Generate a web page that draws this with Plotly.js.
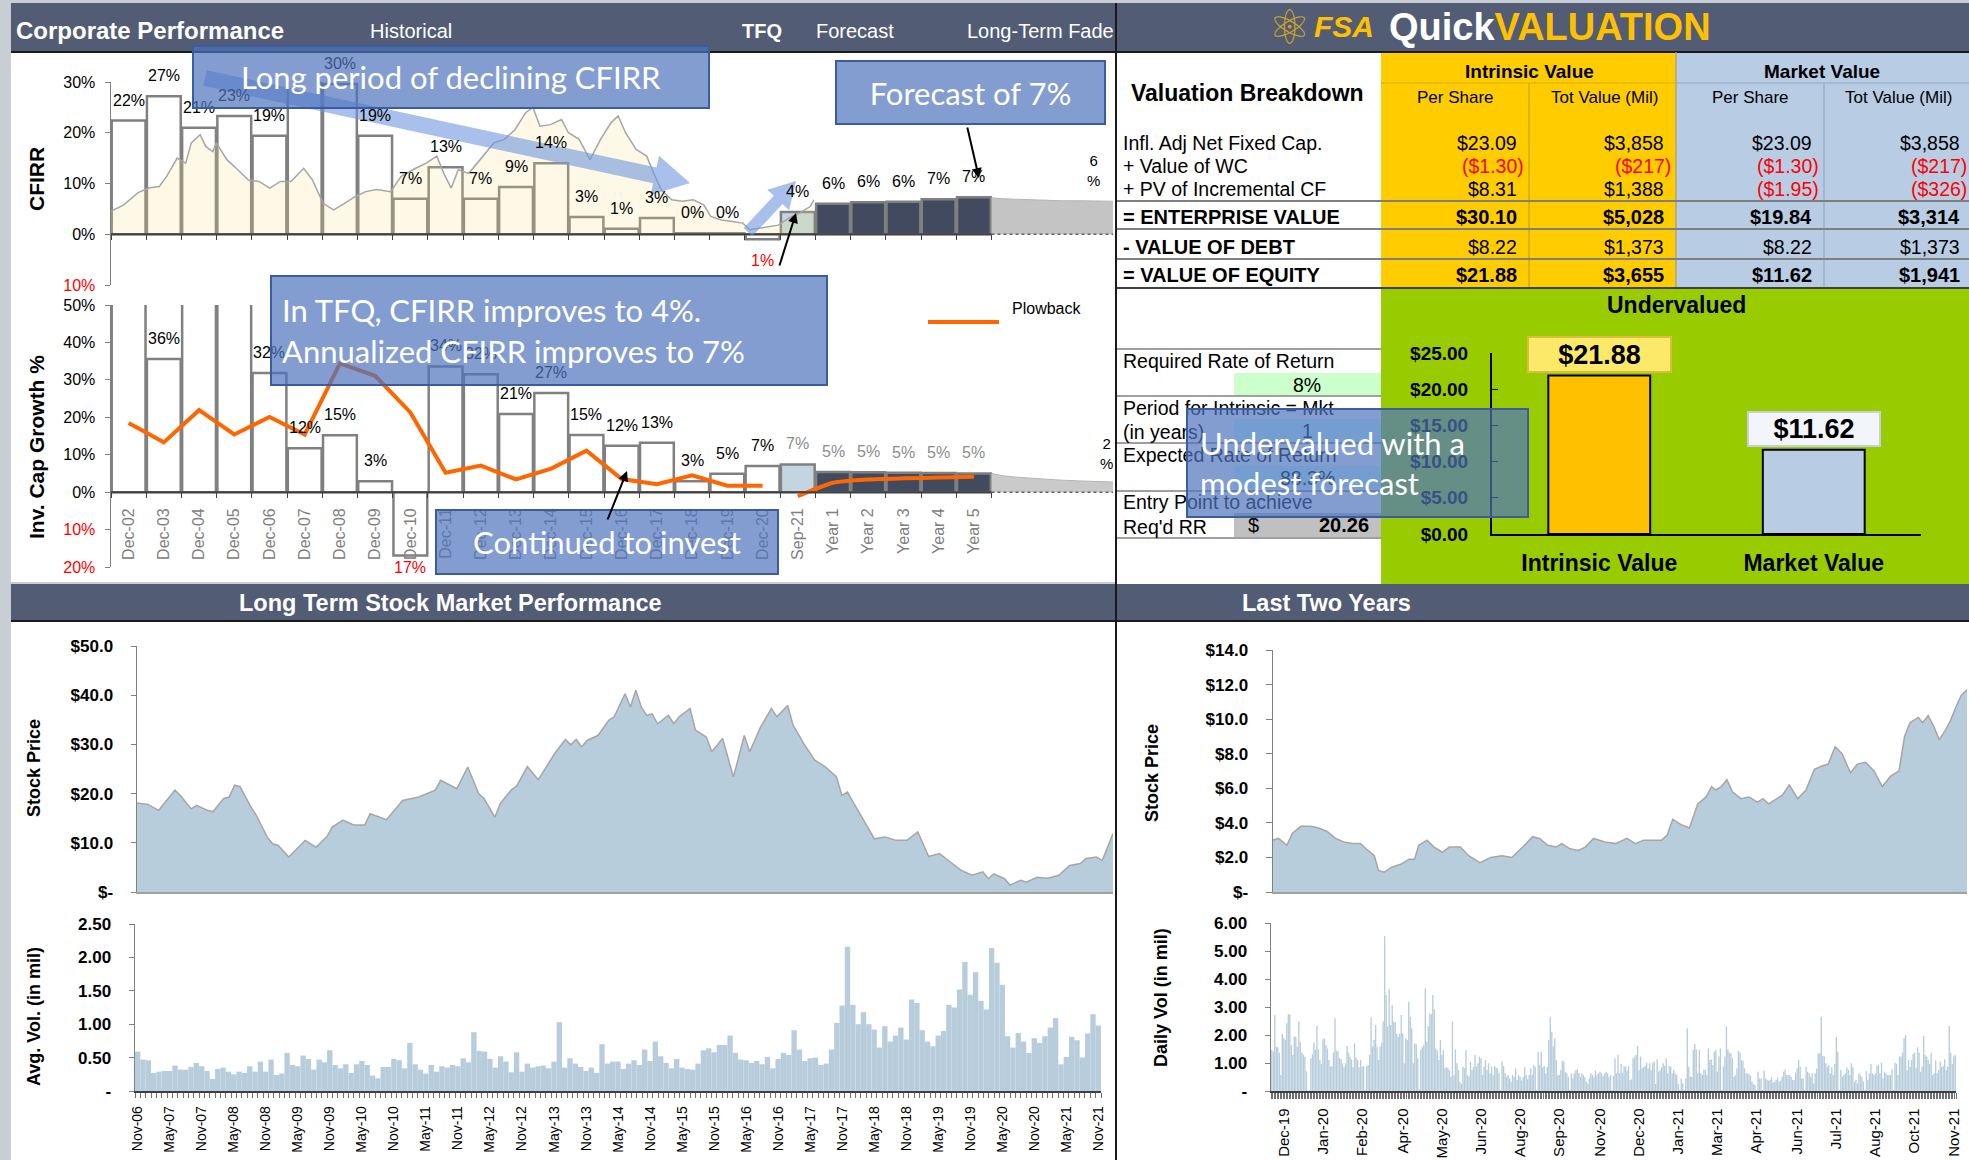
<!DOCTYPE html>
<html><head><meta charset="utf-8">
<script src="https://cdn.plot.ly/plotly-3.0.1.min.js"></script>
<style>html,body{margin:0;padding:0;background:#c9ced4;overflow:hidden}#chart{width:1969px;height:1160px}</style>
</head><body><div id="chart"></div>
<script>
// ---------------- DATA ----------------
const categories = ['Dec-02','Dec-03','Dec-04','Dec-05','Dec-06','Dec-07','Dec-08','Dec-09','Dec-10','Dec-11','Dec-12','Dec-13','Dec-14','Dec-15','Dec-16','Dec-17','Dec-18','Dec-19','Dec-20','Sep-21','Year 1','Year 2','Year 3','Year 4','Year 5'];
const cfirr = [22.4,27.2,21.0,23.3,19.4,31.0,29.6,19.4,7.0,13.2,7.0,9.3,14.0,3.4,1.1,3.2,0.2,0.2,-1.0,4.4,6.0,6.3,6.4,6.9,7.3];
const invCapGrowth = [56,35.6,58,60,31.8,11.7,15.2,2.9,-16.9,33.6,31.5,20.9,26.5,15.3,12.4,13.2,2.9,4.9,7.0,7.4,5.4,5.3,5.2,5.1,5.0];
const plowback = [18.5,13.3,21.9,15.4,20.1,15.4,34.4,31.1,21.3,5.2,7.1,3.4,6.3,11.1,3.5,2.1,4.5,1.7,1.7];
const plowbackForecastPos = [19,20,21,22,23,24];
const plowbackForecast = [-1.1,2.5,3.4,3.7,3.9,4.1];
const fadePos = [24.5,24.8,25.2,25.6,26.0,26.5,27.0,27.5,27.95];
const cfirrFade = [7.2,7.0,6.9,6.8,6.7,6.6,6.6,6.5,6.5];
const invFade = [5.0,4.4,4.0,3.7,3.5,3.2,3.0,2.8,2.7];
const cfirrFadeLabel = '6%';
const invFadeLabel = '2%';
const cfirrTrendPos = [-0.5,-0.14,0.27,0.57,0.87,1.08,1.38,1.62,1.78,2.03,2.19,2.39,2.49,2.79,3.10,3.40,3.70,4.01,4.31,4.61,4.97,5.22,5.52,5.82,6.13,6.43,6.73,7.04,7.44,7.74,8.15,8.45,8.75,8.95,9.16,9.36,9.66,10.07,10.37,10.67,10.97,11.28,11.48,11.68,11.98,12.29,12.49,12.79,13.10,13.40,13.70,13.90,14.11,14.41,14.71,14.91,15.12,15.42,15.72,16.03,16.33,16.53,16.83,17.14,17.44,17.64,17.94,18.25,18.45,18.75,19.06,19.36,19.46];
const cfirrTrend = [4.5,5.8,8.2,9.1,9.4,11.4,15.0,14.0,18.0,19.6,17.3,16.3,18.0,14.7,12.7,10.7,10.4,9.1,10.4,10.4,13.0,10.7,6.1,4.8,6.1,7.4,8.4,8.8,8.4,11.4,13.0,14.0,15.4,12.0,9.1,12.7,12.0,15.4,18.0,18.7,20.6,24.0,25.0,21.3,21.6,22.6,20.0,18.7,14.7,18.7,22.0,23.3,20.0,16.7,15.4,12.0,8.8,6.8,6.5,6.8,5.8,3.5,2.8,2.5,2.2,0.9,1.2,1.5,1.8,3.2,4.2,5.5,6.8];

const breakdownLabels = ['Infl. Adj Net Fixed Cap.','+ Value of WC','+ PV of Incremental CF','= ENTERPRISE VALUE','- VALUE OF DEBT','= VALUE OF EQUITY'];
const intrinsicPerShare = [23.09,-1.30,8.31,30.10,8.22,21.88];
const intrinsicTotal = [3858,-217,1388,5028,1373,3655];
const marketPerShare = [23.09,-1.30,-1.95,19.84,8.22,11.62];
const marketTotal = [3858,-217,-326,3314,1373,1941];
const requiredReturnPct = 8;
const yearsToConverge = 1;
const expectedReturnPct = 88.3;
const entryPoint = 20.26;
const valueCats = ['Intrinsic Value','Market Value'];
const valuePerShare = [21.88,11.62];
const valuationVerdict = 'Undervalued';

const ltPriceMonth = [0,2,4,7,8,10,11,13,14,16,17,18,19,21,22,24,25,26,28,31,33,35,36,38,40,42,43,46,49,52,55,56,59,61,63,64,66,67,69,70,72,74,77,79,80,81,82,83,85,87,88,90,91,92,93,94,95,96,98,99,100,102,103,105,106,108,110,112,113,115,117,118,120,121,123,125,127,129,130,131,134,136,138,140,142,144,146,148,150,152,154,156,157,158,160,161,163,164,166,168,170,172,174,175,177,178,179,180];
const ltPrice = [18.1,17.8,16.6,20.7,19.6,16.9,17.6,16.6,16.3,19.0,19.3,21.7,21.4,17.3,15.6,11.2,9.8,9.5,7.1,10.5,9.1,11.2,13.2,14.6,13.6,13.6,15.9,14.7,18.6,19.3,20.7,22.7,21.0,25.4,20.0,19.0,15.2,18.0,20.7,21.5,25.5,22.8,28.1,31.0,29.9,31.0,29.5,30.8,31.8,34.9,35.6,40.3,37.6,41.0,37.6,35.9,36.2,34.2,35.9,34.2,35.6,37.3,32.9,31.5,28.5,31.2,23.4,31.8,28.5,33.5,37.3,35.6,37.9,33.9,30.1,26.8,25.4,23.4,19.6,20.3,14.6,10.8,11.2,10.5,10.5,12.2,7.2,7.8,6.1,4.4,3.4,4.1,2.7,3.7,2.7,1.4,2.4,2.0,3.0,2.8,3.4,5.4,5.8,6.8,7.1,6.4,9.1,11.9];
const ltPriceTicks = ['$-','$10.0','$20.0','$30.0','$40.0','$50.0'];
const ltVol = [0.59,0.47,0.46,0.27,0.29,0.30,0.30,0.38,0.32,0.32,
0.36,0.42,0.37,0.30,0.18,0.33,0.35,0.29,0.25,0.29,
0.27,0.37,0.29,0.44,0.29,0.47,0.24,0.26,0.57,0.39,
0.37,0.53,0.48,0.32,0.47,0.43,0.61,0.39,0.34,0.40,
0.27,0.40,0.45,0.39,0.23,0.19,0.36,0.36,0.48,0.46,
0.34,0.72,0.40,0.32,0.26,0.39,0.29,0.37,0.35,0.39,
0.37,0.49,0.43,0.88,0.60,0.59,0.48,0.35,0.52,0.44,
0.28,0.58,0.29,0.41,0.35,0.37,0.38,0.34,0.44,1.03,
0.35,0.49,0.41,0.36,0.30,0.35,0.27,0.70,0.41,0.44,
0.44,0.33,0.41,0.46,0.39,0.62,0.45,0.74,0.52,0.42,
0.34,0.48,0.35,0.33,0.32,0.41,0.61,0.64,0.58,0.69,
0.69,0.83,0.57,0.47,0.46,0.42,0.45,0.40,0.51,0.34,
0.48,0.57,0.54,0.91,0.62,0.45,0.49,0.50,0.39,0.41,
0.62,1.02,1.28,2.16,1.29,1.00,1.18,1.00,0.92,0.65,
0.97,0.74,0.83,0.95,0.77,1.37,1.32,0.91,0.74,0.67,
0.83,0.90,1.29,1.25,1.52,1.93,1.44,1.78,1.35,1.22,
2.14,1.92,1.59,0.82,0.65,0.87,0.74,0.57,0.79,0.72,
0.82,0.95,1.09,0.40,0.51,0.81,0.76,0.50,0.86,1.15,
0.98];
const ltVolTicks = ['Nov-06','May-07','Nov-07','May-08','Nov-08','May-09','Nov-09','May-10','Nov-10','May-11','Nov-11','May-12','Nov-12','May-13','Nov-13','May-14','Nov-14','May-15','Nov-15','May-16','Nov-16','May-17','Nov-17','May-18','Nov-18','May-19','Nov-19','May-20','Nov-20','May-21','Nov-21'];
const ltVolTickText = ['-','0.50','1.00','1.50','2.00','2.50'];

const twoYrDay = [0,4,10,14,20,27,33,39,45,51,57,63,67,73,76,80,86,92,98,102,105,111,116,122,127,135,141,149,157,165,172,180,187,192,198,204,208,214,220,225,231,239,247,255,261,267,274,280,284,288,294,300,306,312,316,319,323,327,331,337,343,349,353,357,361,367,372,378,384,390,396,400,405,410,416,421,427,433,439,445,451,455,459,465,468,472,476,480,484,488,492,496,500];
const twoYrPrice = [3.0,3.1,2.7,3.4,3.8,3.8,3.7,3.5,3.1,2.9,2.8,2.8,2.5,2.1,1.25,1.15,1.45,1.6,1.9,1.9,2.7,3.0,2.6,2.3,2.6,2.6,2.1,1.7,2.0,2.1,2.0,2.6,3.2,3.1,2.7,2.6,2.8,2.5,2.4,2.6,3.1,2.9,2.8,3.1,2.8,3.0,3.0,3.0,3.3,4.2,3.9,3.7,5.1,5.5,6.1,5.9,6.1,6.5,5.8,5.4,5.5,5.2,5.4,5.1,5.3,5.6,6.2,5.4,5.9,7.1,7.3,7.4,8.4,8.0,6.9,7.4,7.5,7.0,6.1,6.7,7.0,9.0,9.8,10.1,9.8,10.2,9.6,8.8,9.3,9.9,10.7,11.4,11.7];
const twoYrPriceTicks = ['$-','$2.0','$4.0','$6.0','$8.0','$10.0','$12.0','$14.0'];
const dailyVol = [1.46,1.40,2.71,1.58,1.55,1.37,0.57,2.04,1.88,1.83,
2.42,2.74,2.74,1.64,1.29,1.94,1.94,1.58,2.48,1.76,
1.37,1.29,1.22,0.70,0.03,0.02,1.17,1.31,1.73,1.49,
2.32,1.49,1.11,0.96,1.85,1.88,1.64,1.52,1.11,0.87,
0.89,1.37,2.60,1.44,1.42,1.18,1.14,0.99,0.85,0.99,
1.61,1.37,1.23,1.13,0.85,1.70,1.20,1.11,0.85,1.11,
0.87,0.89,0.04,0.89,0.93,1.29,2.63,1.58,1.82,2.36,
1.58,1.11,1.58,1.73,2.48,5.53,3.43,2.30,3.63,2.36,
3.07,2.48,2.45,2.04,1.94,2.04,2.71,2.06,0.99,1.88,
1.82,3.19,2.65,2.24,0.99,1.70,1.67,1.17,0.05,1.46,
1.56,1.64,3.67,1.76,2.32,2.77,2.74,3.43,2.92,1.52,
1.44,1.11,1.82,1.29,1.46,0.81,0.85,0.81,0.75,0.51,
2.48,0.57,1.49,0.99,0.75,0.33,0.25,0.87,0.81,1.46,
0.57,0.51,1.05,0.75,0.85,1.29,0.87,0.99,1.23,1.17,
0.57,0.87,1.11,0.75,0.99,0.63,0.87,0.57,0.89,0.85,
0.81,0.63,0.04,1.05,0.89,0.63,0.51,0.57,0.45,0.33,
0.57,0.51,0.81,0.39,0.57,0.51,0.37,0.51,0.85,0.57,
0.42,0.57,0.81,0.57,0.93,0.87,0.04,1.40,0.93,1.40,
0.85,0.89,0.63,0.87,1.82,2.65,2.12,1.60,1.88,1.11,
0.57,0.57,0.75,1.08,1.05,0.69,0.63,0.51,0.04,0.63,
0.45,0.63,0.75,0.77,0.63,0.51,0.63,0.57,0.49,0.33,
0.27,0.45,0.63,0.57,0.49,0.73,0.57,0.63,0.69,0.63,
0.54,0.63,0.69,0.63,0.51,0.57,0.04,0.54,1.17,0.63,
1.29,0.63,0.96,0.65,0.89,0.87,0.73,0.89,0.39,0.42,
1.17,1.23,1.29,1.61,0.75,1.23,0.81,0.85,0.89,1.01,
0.81,0.99,
0.75,1.01,1.05,0.25,1.13,0.69,
0.75,0.85,0.99,0.89,1.17,0.63,0.89,0.87,0.63,0.75,
0.63,0.57,0.25,0.04,0.45,0.27,0.04,0.45,2.24,0.87,
0.51,0.51,1.46,1.68,1.49,0.63,1.46,0.63,0.57,0.77,
0.75,0.57,1.52,1.11,1.13,0.93,1.40,1.46,0.69,1.23,
1.52,0.04,0.87,1.23,2.30,1.49,1.37,1.35,1.17,0.51,
0.57,0.81,1.44,1.37,1.11,1.08,0.81,0.63,0.63,0.61,
0.54,0.33,0.25,0.21,0.04,0.69,0.45,0.45,0.04,0.73,
0.45,0.39,0.37,0.39,0.49,0.30,0.33,0.39,0.49,0.33,
0.37,0.51,0.69,0.77,0.57,0.57,0.57,0.51,0.39,0.39,
0.65,0.81,1.11,0.87,0.45,0.45,0.04,0.87,0.69,0.63,
0.51,0.63,0.27,0.63,0.80,1.35,1.35,2.65,1.25,1.23,
0.99,0.87,0.93,0.63,0.85,0.57,0.96,1.94,1.40,0.04,
0.75,0.51,0.57,0.63,0.85,0.75,0.57,0.99,0.85,0.33,
0.39,0.27,0.63,0.57,0.49,0.33,0.04,0.71,0.39,0.63,
0.96,0.63,0.57,0.63,0.89,0.93,0.63,1.01,0.45,0.69,
0.63,0.57,0.57,0.57,0.77,0.04,1.01,0.96,0.57,1.23,
1.23,1.37,1.88,2.00,0.75,1.11,0.87,1.11,1.32,1.37,
0.81,1.56,1.37,0.69,0.87,1.96,1.29,1.23,1.11,0.96,
1.37,0.57,0.63,1.08,0.63,0.75,1.05,0.85,0.89,1.13,
0.75,0.87,2.32,1.37,0.96,1.23,1.29];
const dailyTickText = ['Dec-19','Jan-20','Feb-20','Apr-20','May-20','Jun-20','Aug-20','Sep-20','Nov-20','Dec-20','Jan-21','Mar-21','Apr-21','Jun-21','Jul-21','Aug-21','Oct-21','Nov-21'];
const dailyTickPos = [8,34,60,87,113,139,165,191,218,244,270,296,322,349,375,401,427,453];
const dailyVolTickText = ['-','1.00','2.00','3.00','4.00','5.00','6.00'];

// ---------------- HELPERS ----------------
const W = 1969, H = 1160;
const X = p => p / W;
const Y = p => 1 - p / H;
const FONT = 'Liberation Sans, Arial, sans-serif';
const CALLOUT = 'Lato, Open Sans, sans-serif';
const shapes = [];
const annotations = [];
function rect(x0,y0,x1,y1,fill,layer){shapes.push({type:'rect',xref:'paper',yref:'paper',x0:X(x0),x1:X(x1),y0:Y(y1),y1:Y(y0),fillcolor:fill,line:{width:0},layer:layer||'below'});}
function hline(x0,x1,y,color,w){shapes.push({type:'line',xref:'paper',yref:'paper',x0:X(x0),x1:X(x1),y0:Y(y),y1:Y(y),line:{color:color,width:w},layer:'below'});}
function vline(x,y0,y1,color,w){shapes.push({type:'line',xref:'paper',yref:'paper',x0:X(x),x1:X(x),y0:Y(y0),y1:Y(y1),line:{color:color,width:w},layer:'below'});}
function txt(px,py,text,o){o=o||{};annotations.push({xref:'paper',yref:'paper',x:X(px),y:Y(py),text:text,showarrow:false,xanchor:o.xa||'left',yanchor:o.ya||'middle',align:o.align||'left',textangle:o.angle||0,font:{family:o.family||FONT,size:o.size||16,color:o.color||'#000',weight:o.bold?700:400,style:o.italic?'italic':'normal'}});}
function callout(x0,y0,x1,y1,text,size,align,pad){const bw=2;pad=pad||0;annotations.push({xref:'paper',yref:'paper',x:X((x0+x1)/2),y:Y((y0+y1)/2),xanchor:'center',yanchor:'middle',text:text,showarrow:false,align:align||'center',valign:'middle',width:(x1-x0)-2*pad-2*bw,height:(y1-y0)-2*pad-2*bw,borderpad:pad,borderwidth:bw,bordercolor:'#3b5c9e',bgcolor:'rgba(79,115,190,0.70)',font:{family:CALLOUT,size:size,color:'#ffffff'}});}
function blockArrow(x0,y0,x1,y1,bw,hw,hl,color){const dx=x1-x0,dy=y1-y0,L=Math.hypot(dx,dy),ux=dx/L,uy=dy/L,nx=-uy,ny=ux;const bx=x1-ux*hl,by=y1-uy*hl;const pts=[[x0+nx*bw/2,y0+ny*bw/2],[bx+nx*bw/2,by+ny*bw/2],[bx+nx*hw/2,by+ny*hw/2],[x1,y1],[bx-nx*hw/2,by-ny*hw/2],[bx-nx*bw/2,by-ny*bw/2],[x0-nx*bw/2,y0-ny*bw/2]];shapes.push({type:'path',xref:'paper',yref:'paper',path:'M '+pts.map(p=>X(p[0])+','+Y(p[1])).join(' L ')+' Z',fillcolor:color,line:{width:0},layer:'above'});}
function arrow(hx,hy,tx,ty){annotations.push({xref:'paper',yref:'paper',x:X(hx),y:Y(hy),ax:tx-hx,ay:ty-hy,axref:'pixel',ayref:'pixel',text:'',showarrow:true,arrowhead:2,arrowsize:1,arrowwidth:2,arrowcolor:'#000'});}
const money = (v,d) => (v<0?'($':'$') + Math.abs(v).toLocaleString('en-US',{minimumFractionDigits:d,maximumFractionDigits:d}) + (v<0?')':'');
const red = s => '<span style="color:#ff0000">'+s+'</span>';

// ---------------- BACKGROUND PANELS ----------------
const HEAD = '#525c75';
rect(11,3,1115,52,HEAD); rect(1117,3,1969,52,HEAD);
rect(11,52,1115,582,'#ffffff'); rect(1117,52,1969,584,'#ffffff');
rect(1381,52,1676,288,'#ffcc00'); rect(1676,52,1969,288,'#b8cce4');
rect(1381,288,1969,584,'#99cc00');
rect(11,584,1115,622,HEAD); rect(1117,584,1969,622,HEAD);
rect(11,622,1115,1160,'#ffffff'); rect(1117,622,1969,1160,'#ffffff');
hline(11,1969,52,'#1a1a1a',2); hline(11,1969,621,'#1a1a1a',2);
vline(1116,3,1160,'#1a1a1a',2);
// table grid
hline(1381,1676,83,'#d9ad00',1); hline(1676,1969,83,'#8ea9c8',1);
vline(1529,83,288,'#c9a000',1.2); vline(1676,52,288,'#9a9a9a',1.2); vline(1824,83,288,'#8ea9c8',1.2);
hline(1117,1969,201,'#7f7f7f',2); hline(1117,1969,229,'#7f7f7f',2); hline(1117,1969,259,'#7f7f7f',2); hline(1117,1969,288,'#404040',2);
rect(1234,373,1381,395,'#ccffcc'); rect(1234,419,1381,442,'#ccffff'); rect(1234,466,1381,489,'#ccffff'); rect(1234,513,1381,537,'#c0c0c0');
[349,396,443,491,538].forEach(y=>hline(1117,1381,y,'#7f7f7f',1.5));

// ---------------- HEADERS ----------------
txt(14,31,'Corporate Performance',{size:24,bold:true,color:'#ffffff'});
txt(411,31,'Historical',{xa:'center',size:20,color:'#ffffff'});
txt(762,31,'TFQ',{xa:'center',size:20,bold:true,color:'#ffffff'});
txt(855,31,'Forecast',{xa:'center',size:20,color:'#ffffff'});
txt(965,31,'Long-Term Fade',{size:20,color:'#ffffff'});
txt(1289,27,'\u269B',{xa:'center',size:48,color:'#c9a227',family:'DejaVu Sans'});
txt(1312,27,'FSA',{size:30,bold:true,italic:true,color:'#ffc000'});
txt(1387,27,'Quick<span style="color:#ffc000">VALUATION</span>',{size:38,bold:true,color:'#ffffff'});
txt(450,603,'Long Term Stock Market Performance',{xa:'center',size:23.5,bold:true,color:'#ffffff'});
txt(1326,603,'Last Two Years',{xa:'center',size:23.5,bold:true,color:'#ffffff'});

// ---------------- VALUATION TABLE ----------------
txt(1129,93,'Valuation Breakdown',{size:23,bold:true});
txt(1529,71,'Intrinsic Value',{xa:'center',size:19,bold:true});
txt(1822,71,'Market Value',{xa:'center',size:19,bold:true});
[[1455,'Per Share'],[1604,'Tot Value (Mil)'],[1750,'Per Share'],[1898,'Tot Value (Mil)']].forEach(h=>txt(h[0],97,h[1],{xa:'center',size:17}));
const rowY = [143,166,189,217,247,275];
const colRight = [1519,1666,1814,1962];
breakdownLabels.forEach((lab,i)=>{
  const boldRow = i>=3, boldVals = (i===3||i===5);
  txt(1121,rowY[i],lab,{size:boldRow?20:19.5,bold:boldRow});
  const vals = [[intrinsicPerShare[i],2],[intrinsicTotal[i],0],[marketPerShare[i],2],[marketTotal[i],0]];
  vals.forEach((v,j)=>{
    const s = money(v[0],v[1]);
    txt(colRight[j]+(v[0]<0?7:0),rowY[i],v[0]<0?red(s):s,{xa:'right',size:boldVals?20:19.5,bold:boldVals});
  });
});
txt(1121,361,'Required Rate of Return',{size:19.5});
txt(1307,385,requiredReturnPct+'%',{xa:'center',size:19.5});
txt(1121,408,'Period for Intrinsic = Mkt',{size:19.5});
txt(1121,432,'(in years)',{size:19.5});
txt(1307,431,String(yearsToConverge),{xa:'center',size:19.5});
txt(1121,455,'Expected Rate of Return',{size:19.5});
txt(1307,478,expectedReturnPct.toFixed(1)+'%',{xa:'center',size:19.5});
txt(1121,502,'Entry Point to achieve',{size:19.5});
txt(1121,527,"Req'd RR",{size:19.5});
txt(1246,525,'$',{size:20});
txt(1371,525,entryPoint.toFixed(2),{xa:'right',size:20,bold:true});
txt(1676,305,valuationVerdict,{xa:'center',size:23,bold:true});

// ---------------- AXIS TITLES ----------------
txt(36,179,'CFIRR',{xa:'center',size:21,bold:true,angle:-90});
txt(36,447,'Inv. Cap Growth %',{xa:'center',size:21,bold:true,angle:-90});
txt(34,768,'Stock Price',{xa:'center',size:18,bold:true,angle:-90});
txt(34,1017,'Avg. Vol. (in mil)',{xa:'center',size:18,bold:true,angle:-90});
txt(1152,773,'Stock Price',{xa:'center',size:18,bold:true,angle:-90});
txt(1161,998,'Daily Vol (in mil)',{xa:'center',size:18,bold:true,angle:-90});

// ---------------- TRACES ----------------
const idx = categories.map((c,i)=>i);
const boundaries = categories.map((c,i)=>i-0.5).concat([categories.length-0.5]);
const nHist = categories.indexOf('Sep-21');
const lastCat = categories.length-0.5;
const fillFor = (i,hist) => i<nHist ? hist : (i===nHist ? '#c3d6df' : '#414a5f');
const traces = [
  {type:'scatter',x:cfirrTrendPos,y:cfirrTrend,xaxis:'x',yaxis:'y',mode:'lines',line:{color:'#a6a6a6',width:1.5},fill:'tozeroy',fillcolor:'rgba(245,225,130,0.2)'},
  {type:'bar',x:idx,y:cfirr,xaxis:'x',yaxis:'y',width:0.96,marker:{color:idx.map(i=>fillFor(i,'rgba(0,0,0,0)')),line:{color:'#808080',width:2.5}}},
  {type:'scatter',x:fadePos,y:cfirrFade,xaxis:'x',yaxis:'y',mode:'lines',line:{color:'#b5b5b5',width:1},fill:'tozeroy',fillcolor:'#c4c4c4'},
  {type:'bar',x:idx,y:invCapGrowth,xaxis:'x2',yaxis:'y2',width:0.96,marker:{color:idx.map(i=>fillFor(i,'#ffffff')),line:{color:'#808080',width:2.5}}},
  {type:'scatter',x:fadePos,y:invFade,xaxis:'x2',yaxis:'y2',mode:'lines',line:{color:'#b5b5b5',width:1},fill:'tozeroy',fillcolor:'#cacaca'},
  {type:'scatter',x:idx.slice(0,plowback.length),y:plowback,xaxis:'x2',yaxis:'y2',mode:'lines',line:{color:'#ff6600',width:4}},
  {type:'scatter',x:plowbackForecastPos,y:plowbackForecast,xaxis:'x2',yaxis:'y2',mode:'lines',line:{color:'#ff6600',width:4,shape:'spline',smoothing:0.6}},
  {type:'bar',x:valueCats,y:valuePerShare,xaxis:'x3',yaxis:'y3',width:0.475,marker:{color:['#ffc000','#b8cce4'],line:{color:'#000000',width:2}}},
  {type:'scatter',x:ltPriceMonth,y:ltPrice,xaxis:'x4',yaxis:'y4',mode:'lines',line:{color:'#a6a6a6',width:1.5},fill:'tozeroy',fillcolor:'#b7cddc'},
  {type:'bar',x:ltVol.map((v,i)=>i),y:ltVol,xaxis:'x5',yaxis:'y5',width:1,marker:{color:'#b7cddc',line:{width:0}}},
  {type:'scatter',x:twoYrDay,y:twoYrPrice,xaxis:'x6',yaxis:'y6',mode:'lines',line:{color:'#a6a6a6',width:1.5},fill:'tozeroy',fillcolor:'#b7cddc'},
  {type:'bar',x:dailyVol.map((v,i)=>i),y:dailyVol,xaxis:'x7',yaxis:'y7',width:0.9,marker:{color:'#b7cddc',line:{width:0}}}
];

// zero lines: solid through forecast years, dotted through long-term fade
[['x','y'],['x2','y2']].forEach(r=>{
  shapes.push({type:'line',xref:r[0],yref:r[1],x0:-0.5,x1:lastCat,y0:0,y1:0,line:{color:'#404040',width:2},layer:'above'});
  shapes.push({type:'line',xref:r[0],yref:r[1],x0:lastCat,x1:fadePos[fadePos.length-1],y0:0,y1:0,line:{color:'#606060',width:1.5,dash:'dot'},layer:'above'});
});

// data labels
cfirr.forEach((v,i)=>{ if(v>30.5) return;
  annotations.push({xref:'x',yref:'y',x:i,y:v,text:Math.round(Math.abs(v))+'%',showarrow:false,yanchor:v<0?'top':'bottom',yshift:v<0?-11:10,font:{family:FONT,size:16,color:v<0?'#ff0000':'#000000'}});
});
invCapGrowth.forEach((v,i)=>{ if(v>50) return;
  annotations.push({xref:'x2',yref:'y2',x:i,y:v,text:Math.round(Math.abs(v))+'%',showarrow:false,yanchor:v<0?'top':'bottom',yshift:v<0?-2:10,font:{family:FONT,size:16,color:v<0?'#ff0000':(i>=nHist?'#8c8c8c':'#000000')}});
});
annotations.push({xref:'x',yref:'y',x:27.4,y:12.6,text:cfirrFadeLabel.replace('%','<br>%'),showarrow:false,font:{family:FONT,size:15}});
annotations.push({xref:'x2',yref:'y2',x:27.77,y:10.4,text:invFadeLabel.replace('%','<br>%'),showarrow:false,font:{family:FONT,size:15}});
valuePerShare.forEach((v,i)=>{
  annotations.push({xref:'x3',yref:'y3',x:valueCats[i],y:v,text:'$'+v.toFixed(2),showarrow:false,yanchor:'bottom',yshift:3,
    font:{family:FONT,size:27,weight:700},bgcolor:i===0?'#fce96a':'#f2f5fa',bordercolor:i===0?'#d8bd3f':'#c6cfdc',borderwidth:2,borderpad:0,width:i===0?141:130,height:i===0?33:32});
});
// plowback legend
shapes.push({type:'line',xref:'paper',yref:'paper',x0:X(928),x1:X(999),y0:Y(322),y1:Y(322),line:{color:'#ff6600',width:4},layer:'above'});
txt(1010,309,'Plowback',{size:16});

// arrows and callouts
blockArrow(205,78,690,183,16,40,36,'rgba(110,150,222,0.6)');
blockArrow(748,232,796,181,12,30,26,'rgba(110,150,222,0.6)');
callout(192,45,710,109,'Long period of declining CFIRR',31);
callout(835,60,1106,125,'Forecast of 7%',31);
callout(270,275,828,386,'In TFQ, CFIRR improves to 4%.<br>Annualized CFIRR improves to 7%',31,'left',10);
callout(435,509,779,575,'Continued to invest',31);
callout(1186,408,1529,518,'Undervalued with a<br>modest forecast',31,'left',12);
arrow(979,178,967,126);
arrow(796,213,779,267);
arrow(627,471,607,521);

// ---------------- LAYOUT ----------------
const base = {fixedrange:true,showgrid:false,zeroline:false};
const pctTicks = (vals) => vals.map(v=> v<0 ? red(Math.abs(v)+'%') : v+'%');
const cfirrTickVals = [-10,0,10,20,30];
const invTickVals = [-20,-10,0,10,20,30,40,50];
const ltVolBounds = ltVol.map((v,i)=>i-0.5).concat([ltVol.length-0.5]);
const dailyBounds = dailyVol.map((v,i)=>i-0.5).concat([dailyVol.length-0.5]);
const layout = {
  width:W,height:H,margin:{l:0,r:0,t:0,b:0,pad:0},
  paper_bgcolor:'#c9ced4',plot_bgcolor:'rgba(0,0,0,0)',
  font:{family:FONT,color:'#000000'},showlegend:false,hovermode:false,
  xaxis:Object.assign({},base,{domain:[X(111),X(1113)],range:[-0.5,27.95],anchor:'free',position:Y(234.25),showline:false,tickmode:'array',tickvals:boundaries,ticks:'outside',ticklen:5,tickcolor:'#404040',showticklabels:false}),
  yaxis:Object.assign({},base,{domain:[Y(285),Y(82)],range:[-10,30],anchor:'x',showline:true,linecolor:'#808080',linewidth:1.5,ticks:'outside',ticklen:5,tickcolor:'#808080',tickmode:'array',tickvals:cfirrTickVals,ticktext:pctTicks(cfirrTickVals),tickfont:{size:16},ticklabelstandoff:6}),
  xaxis2:Object.assign({},base,{domain:[X(111),X(1113)],range:[-0.5,27.95],anchor:'free',position:Y(492.1),showline:false,tickmode:'array',tickvals:idx,ticktext:categories,ticks:'',tickangle:-90,tickfont:{size:16,color:'#808080'},ticklabelstandoff:12,minor:{tickmode:'array',tickvals:boundaries,ticks:'outside',ticklen:5,tickcolor:'#404040'}}),
  yaxis2:Object.assign({},base,{domain:[Y(567),Y(305)],range:[-20,50],anchor:'x2',showline:true,linecolor:'#808080',linewidth:1.5,ticks:'outside',ticklen:5,tickcolor:'#808080',tickmode:'array',tickvals:invTickVals,ticktext:pctTicks(invTickVals),tickfont:{size:16},ticklabelstandoff:6}),
  xaxis3:Object.assign({},base,{domain:[X(1492),X(1921)],type:'category',anchor:'y3',showline:true,linecolor:'#000000',linewidth:2,ticks:'',tickfont:{size:23,weight:700},ticklabelstandoff:7}),
  yaxis3:Object.assign({},base,{domain:[Y(534),Y(353)],range:[0,25],anchor:'x3',showline:true,linecolor:'#000000',linewidth:2,ticks:'inside',ticklen:6,tickcolor:'#000000',dtick:5,tickformat:'$.2f',tickfont:{size:19,weight:700},ticklabelstandoff:18}),
  xaxis4:Object.assign({},base,{domain:[X(137),X(1113)],range:[0,180],anchor:'y4',showline:true,linecolor:'#a0a0a0',linewidth:1.5,ticks:'',showticklabels:false}),
  yaxis4:Object.assign({},base,{domain:[Y(892),Y(646)],range:[0,50],anchor:'x4',showline:true,linecolor:'#808080',linewidth:1.5,ticks:'outside',ticklen:5,tickcolor:'#808080',tickmode:'array',tickvals:[0,10,20,30,40,50],ticktext:ltPriceTicks,tickfont:{size:17,weight:700},ticklabelstandoff:14}),
  xaxis5:Object.assign({},base,{domain:[X(135),X(1101)],range:[-0.5,ltVol.length-0.5],anchor:'y5',showline:true,linecolor:'#404040',linewidth:1.5,tickmode:'array',tickvals:ltVolTicks.map((t,i)=>i*6),ticktext:ltVolTicks,ticks:'',tickangle:-90,tickfont:{size:14},ticklabelstandoff:8,minor:{tickmode:'array',tickvals:ltVolBounds,ticks:'outside',ticklen:5,tickcolor:'#707070'}}),
  yaxis5:Object.assign({},base,{domain:[Y(1091),Y(924)],range:[0,2.5],anchor:'x5',showline:true,linecolor:'#808080',linewidth:1.5,ticks:'outside',ticklen:5,tickcolor:'#808080',tickmode:'array',tickvals:[0,0.5,1,1.5,2,2.5],ticktext:ltVolTickText,tickfont:{size:17,weight:700},ticklabelstandoff:14}),
  xaxis6:Object.assign({},base,{domain:[X(1273),X(1967)],range:[0,500],anchor:'y6',showline:true,linecolor:'#a0a0a0',linewidth:1.5,ticks:'',showticklabels:false}),
  yaxis6:Object.assign({},base,{domain:[Y(892),Y(650)],range:[0,14],anchor:'x6',showline:true,linecolor:'#808080',linewidth:1.5,ticks:'outside',ticklen:6,tickcolor:'#808080',tickmode:'array',tickvals:[0,2,4,6,8,10,12,14],ticktext:twoYrPriceTicks,tickfont:{size:17,weight:700},ticklabelstandoff:14}),
  xaxis7:Object.assign({},base,{domain:[X(1271),X(1956)],range:[-0.5,dailyVol.length-0.5],anchor:'y7',showline:true,linecolor:'#404040',linewidth:1.5,tickmode:'array',tickvals:dailyTickPos,ticktext:dailyTickText,ticks:'',tickangle:-90,tickfont:{size:15},ticklabelstandoff:10,minor:{tickmode:'array',tickvals:dailyBounds,ticks:'outside',ticklen:6,tickcolor:'#707070'}}),
  yaxis7:Object.assign({},base,{domain:[Y(1091),Y(923)],range:[0,6],anchor:'x7',showline:true,linecolor:'#808080',linewidth:1.5,ticks:'outside',ticklen:5,tickcolor:'#808080',tickmode:'array',tickvals:[0,1,2,3,4,5,6],ticktext:dailyVolTickText,tickfont:{size:17,weight:700},ticklabelstandoff:14}),
  shapes:shapes,annotations:annotations
};
Plotly.newPlot('chart',traces,layout,{staticPlot:true,displayModeBar:false});
</script></body></html>
